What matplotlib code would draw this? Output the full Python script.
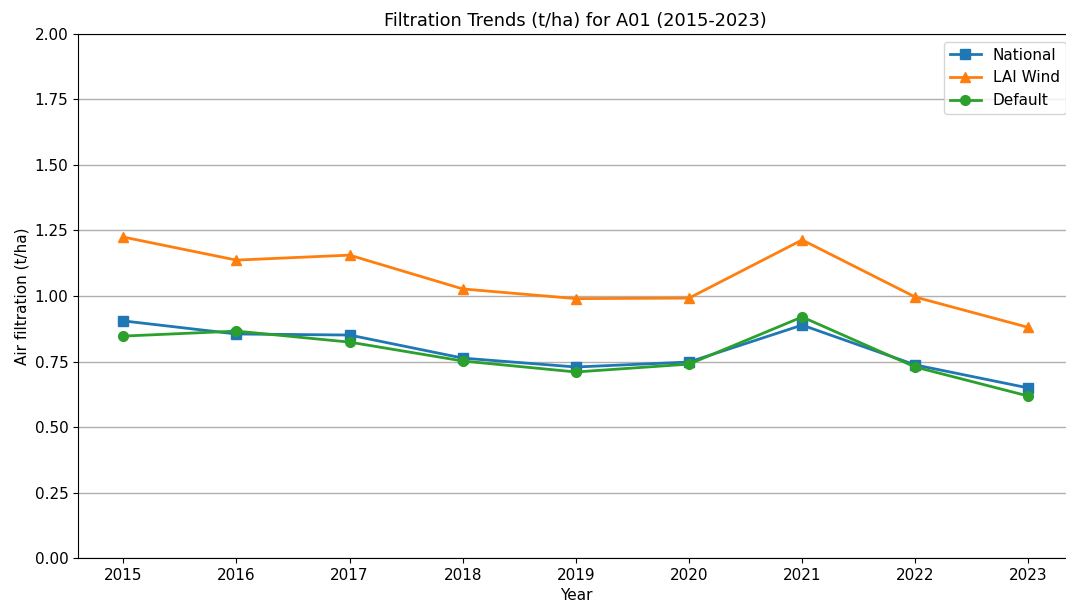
import matplotlib
matplotlib.use("Agg")
import matplotlib.pyplot as plt

years = [2015, 2016, 2017, 2018, 2019, 2020, 2021, 2022, 2023]
national = [0.905, 0.855, 0.851, 0.763, 0.729, 0.748, 0.889, 0.737, 0.649]
lai_wind = [1.225, 1.137, 1.156, 1.027, 0.990, 0.992, 1.214, 0.996, 0.880]
default = [0.847, 0.866, 0.824, 0.752, 0.710, 0.740, 0.920, 0.729, 0.618]

fig = plt.figure(figsize=(10.66, 6.06), dpi=100)
ax = fig.add_axes([0.0732, 0.0792, 0.934, 0.8647])

ax.plot(years, national, marker="s", color="#1f77b4", linewidth=2, markersize=7, label="National")
ax.plot(years, lai_wind, marker="^", color="#ff7f0e", linewidth=2, markersize=7.5, label="LAI Wind")
ax.plot(years, default, marker="o", color="#2ca02c", linewidth=2, markersize=7, label="Default")

ax.set_ylim(0, 2.0)
ax.set_xticks(years)
ax.set_yticks([0, 0.25, 0.5, 0.75, 1.0, 1.25, 1.5, 1.75, 2.0])
ax.grid(axis="y", color="#b0b0b0", linewidth=1)
ax.set_axisbelow(True)
ax.tick_params(labelsize=11)
ax.set_xlabel("Year", fontsize=11)
ax.set_ylabel("Air filtration (t/ha)", fontsize=11)
ax.set_title("Filtration Trends (t/ha) for A01 (2015-2023)", fontsize=12.8)
ax.legend(loc="upper right", fontsize=11)

fig.savefig("out.png", dpi=100)
